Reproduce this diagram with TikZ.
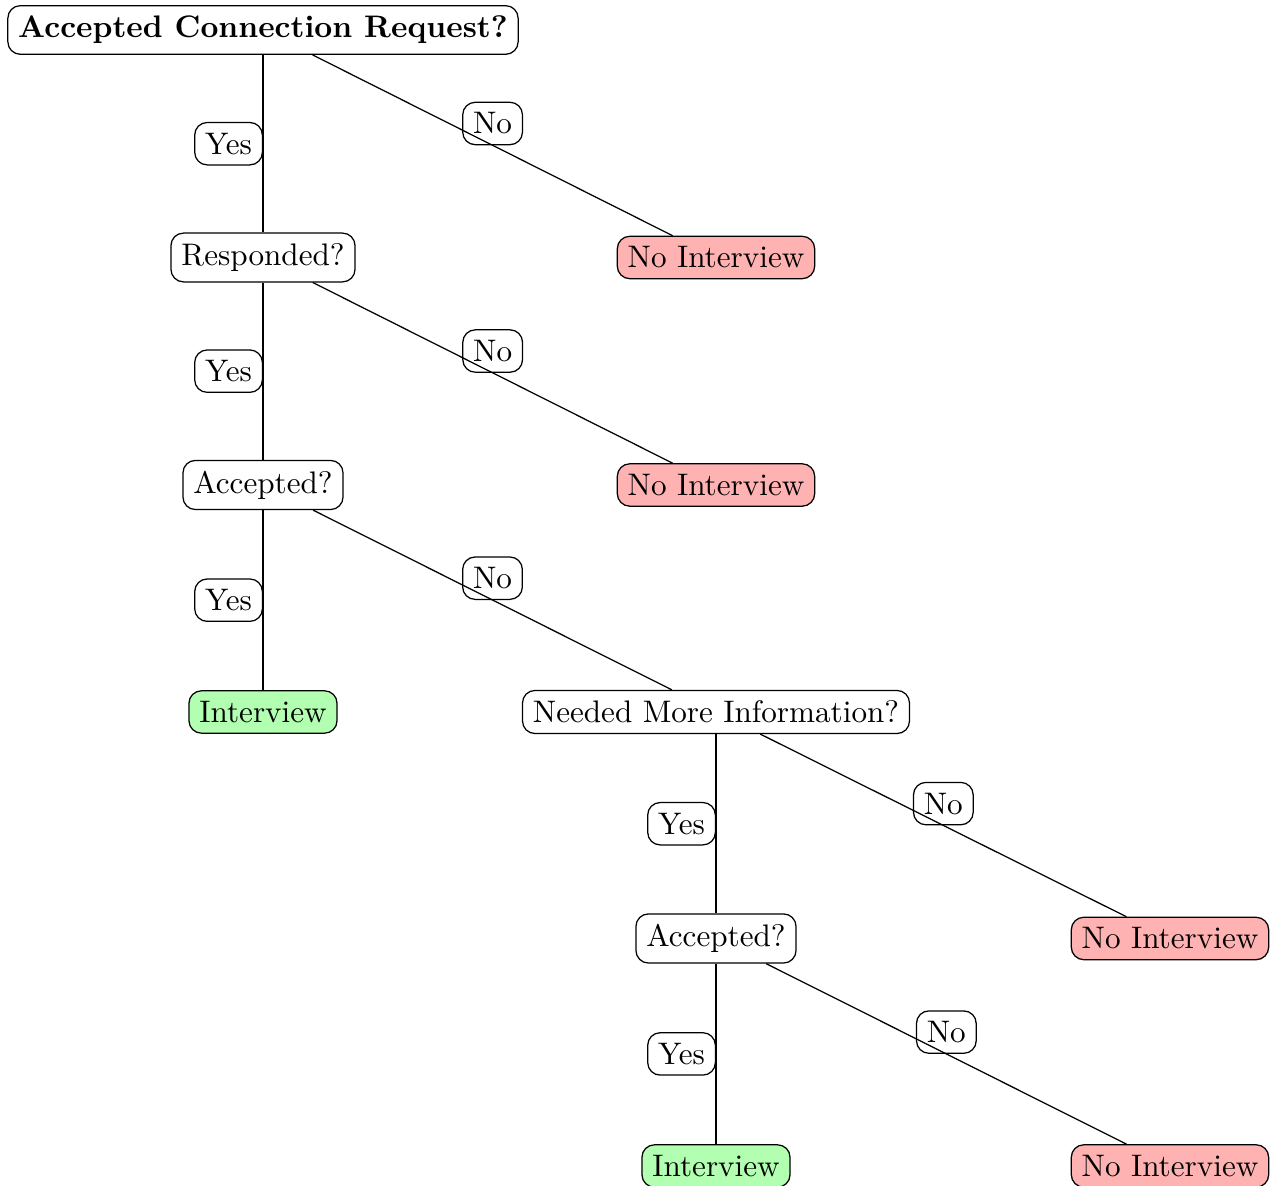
\documentclass[tikz,border=0pt]{standalone}
\begin{document}
\begin{tikzpicture}[x=0.321pt,y=-0.321pt,
  box/.style={draw, rounded corners=4pt, align=center},
  noint/.style={box, fill=red!30},
  yesint/.style={box, fill=green!30},
  lbl/.style={draw, rounded corners=4pt, midway},
  edge/.style={draw, line width=0.4pt}]
\useasboundingbox (0,0) rectangle (1274,1186);
% nodes
\node[box,font=\bfseries] (root) at (263,30) {Accepted Connection Request?};
\node[box] (r1) at (263,257.5) {Responded?};
\node[noint] (n1) at (716,257.5) {No Interview};
\node[box] (a1) at (263,485) {Accepted?};
\node[noint] (n2) at (716,485) {No Interview};
\node[yesint] (i1) at (263,712) {Interview};
\node[box] (m) at (716,712) {Needed More Information?};
\node[box] (a2) at (716,938.5) {Accepted?};
\node[noint] (n3) at (1170,938.5) {No Interview};
\node[yesint] (i2) at (716,1166) {Interview};
\node[noint] (n4) at (1170,1166) {No Interview};
% edges
\draw[edge] (root) -- node[lbl,left] (y1) {Yes} (r1);
\draw[edge] (root) -- node[lbl,above] (o1) {No} (n1);
\draw[edge] (r1) -- node[lbl,left] (y2) {Yes} (a1);
\draw[edge] (r1) -- node[lbl,above] (o2) {No} (n2);
\draw[edge] (a1) -- node[lbl,left] (y3) {Yes} (i1);
\draw[edge] (a1) -- node[lbl,above] (o3) {No} (m);
\draw[edge] (m) -- node[lbl,left] (y4) {Yes} (a2);
\draw[edge] (m) -- node[lbl,above] (o4) {No} (n3);
\draw[edge] (a2) -- node[lbl,left] (y5) {Yes} (i2);
\draw[edge] (a2) -- node[lbl,above] (o5) {No} (n4);
\end{tikzpicture}
\end{document}
